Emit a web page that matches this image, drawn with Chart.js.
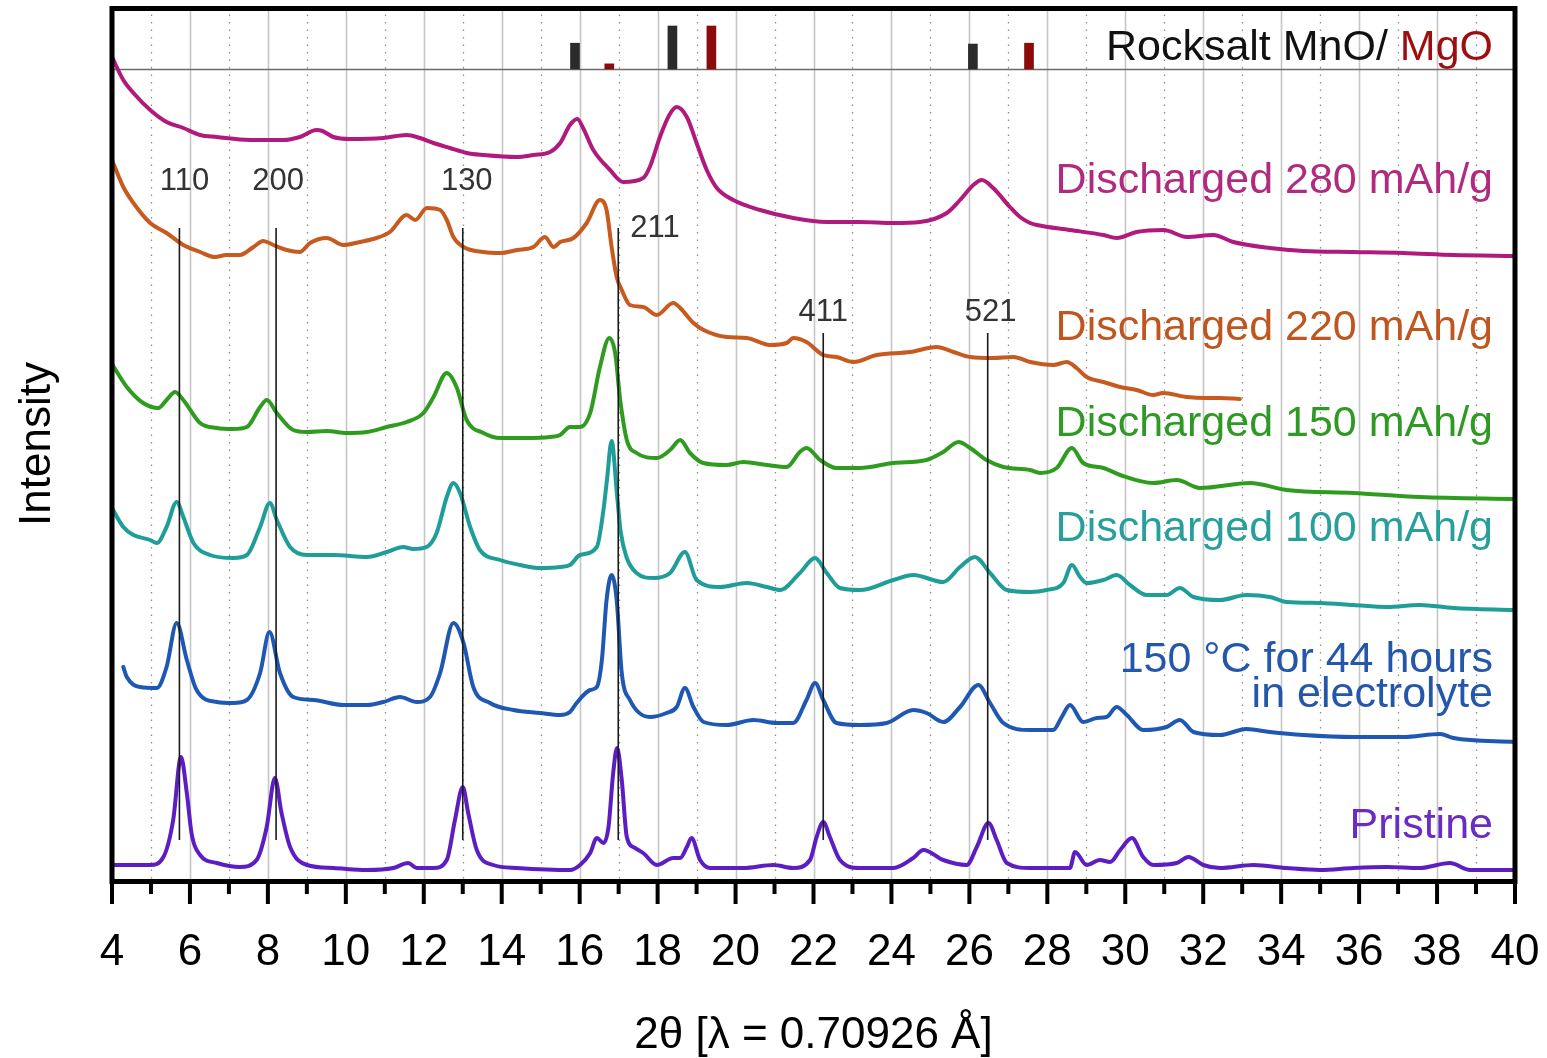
<!DOCTYPE html>
<html>
<head>
<meta charset="utf-8">
<title>XRD patterns</title>
<script src="https://cdn.jsdelivr.net/npm/chart.js@4/dist/chart.umd.min.js"></script>
<style>
  html, body { margin: 0; padding: 0; background: #ffffff; }
  #wrap { width: 1547px; height: 1058px; position: relative; }
</style>
</head>
<body>
<div id="wrap"><canvas id="xrd" width="1547" height="1058"></canvas></div>
<script>
// ---- Data: [2θ (deg), intensity (a.u., patterns stacked with vertical offsets)] ----
const discharged280 = [
  [4.0,824],[4.29,801],[4.55,788],[4.98,771],[5.40,759],[5.83,753],[6.26,746],[6.69,744],[7.54,741],
  [8.40,741],[8.82,744],[9.25,751],[9.40,750],[9.68,744],[10.11,742],[10.96,743],[11.56,746],[11.9,743],
  [12.25,738],[12.67,733],[13.1,728],[13.53,726],[14.39,724],[14.81,726],[15.24,729],[15.5,738],
  [15.75,756],[15.94,762],[16.1,752],[16.35,731],[16.78,711],[17.12,699],[17.63,703],[17.8,714],
  [18.06,744],[18.3,766],[18.49,774],[18.75,764],[19.0,738],[19.26,711],[19.52,693],[19.94,681],
  [20.63,671],[21.48,663],[22.34,659],[23.19,659],[24.05,658],[24.73,659],[25.42,668],[25.76,681],
  [26.1,696],[26.32,701],[26.61,693],[27.04,674],[27.3,664],[27.56,658],[27.73,656],[28.58,651],
  [29.44,646],[29.78,643],[30.29,649],[30.98,651],[31.58,644],[32.26,646],[32.77,639],[33.71,633],
  [34.57,630],[35.85,629],[37.13,628],[38.42,626],[40.0,625]
];
const discharged220 = [
  [4.0,721],[4.29,694],[4.55,678],[4.98,658],[5.40,648],[5.83,636],[6.26,629],[6.64,624],[6.94,626],
  [7.28,626],[7.63,634],[7.88,640],[8.14,636],[8.48,631],[8.82,629],[9.08,638],[9.51,643],[9.94,636],
  [10.36,639],[10.79,643],[11.13,649],[11.56,666],[11.78,661],[12.08,673],[12.42,671],[12.59,661],
  [12.76,644],[13.02,634],[13.53,629],[13.96,628],[14.39,631],[14.81,634],[15.11,644],[15.33,634],
  [15.5,639],[15.84,643],[16.18,658],[16.52,681],[16.69,671],[16.82,634],[16.95,604],[17.08,591],
  [17.29,576],[17.63,574],[17.98,566],[18.4,578],[18.58,573],[18.92,558],[19.18,551],[19.77,544],
  [20.29,543],[20.88,536],[21.31,538],[21.48,543],[21.82,539],[22.25,526],[22.59,524],[23.02,519],
  [23.62,526],[24.48,529],[25.16,534],[25.59,529],[26.02,524],[26.61,523],[27.13,524],[27.56,519],
  [28.15,516],[28.5,519],[28.75,513],[29.01,504],[29.44,499],[29.87,494],[30.29,491],[30.72,486],
  [30.97,488],[31.58,484],[32.09,483],[32.43,483],[32.94,482]
];
const discharged150 = [
  [4.0,517],[4.38,494],[4.80,478],[5.19,473],[5.40,481],[5.62,489],[5.83,481],[6.26,458],[6.69,453],
  [7.11,452],[7.46,454],[7.80,474],[7.97,481],[8.23,468],[8.65,451],[9.0,449],[9.51,450],[10.02,448],
  [10.54,449],[11.05,454],[11.56,459],[11.99,468],[12.25,484],[12.59,508],[12.84,494],[13.1,461],
  [13.53,448],[13.96,443],[14.64,443],[15.24,444],[15.5,446],[15.75,454],[16.01,454],[16.27,468],
  [16.52,514],[16.76,543],[16.91,528],[17.04,481],[17.21,441],[17.46,428],[17.98,423],[18.32,431],
  [18.58,441],[18.83,428],[19.17,418],[19.77,416],[20.2,419],[20.8,416],[21.31,414],[21.65,429],
  [21.82,433],[22.17,421],[22.59,413],[23.19,413],[24.05,418],[24.9,421],[25.33,429],[25.72,439],
  [26.02,433],[26.44,421],[26.87,414],[27.56,411],[27.81,408],[28.24,413],[28.63,433],[28.92,418],
  [29.44,413],[29.87,406],[30.72,398],[31.32,401],[31.92,393],[33.2,398],[34.14,391],[35.85,388],
  [37.56,384],[40.0,382]
];
const discharged100 = [
  [4.0,373],[4.29,354],[4.55,346],[4.98,341],[5.15,338],[5.40,354],[5.66,379],[5.83,364],[6.09,338],
  [6.51,326],[7.11,323],[7.46,326],[7.80,354],[8.05,378],[8.23,361],[8.57,334],[9.0,326],[9.68,326],
  [10.54,324],[11.05,329],[11.47,334],[11.73,332],[12.07,334],[12.33,348],[12.59,384],[12.76,398],
  [12.93,388],[13.19,354],[13.44,331],[13.96,321],[14.47,316],[14.98,313],[15.5,314],[15.75,316],
  [16.01,326],[16.44,334],[16.61,371],[16.7,401],[16.82,440],[16.95,390],[17.05,350],[17.2,324],
  [17.46,308],[17.89,303],[18.32,308],[18.7,329],[19.0,301],[19.6,294],[20.29,298],[20.8,294],
  [21.14,291],[21.65,308],[22.04,323],[22.34,308],[22.68,293],[23.19,291],[24.05,301],[24.56,306],
  [25.33,299],[25.76,314],[26.14,324],[26.53,308],[26.96,291],[27.56,289],[27.98,291],[28.41,298],
  [28.63,316],[28.84,304],[29.01,298],[29.44,301],[29.78,306],[30.12,296],[30.55,286],[31.06,286],
  [31.4,293],[31.75,284],[32.43,281],[33.11,286],[33.71,284],[34.14,279],[35.0,278],[35.85,276],
  [36.71,274],[37.56,276],[38.42,273],[40.0,271]
];
const heated150C = [
  [4.29,214],[4.38,204],[4.72,194],[5.15,193],[5.40,214],[5.66,258],[5.92,221],[6.17,191],[6.69,179],
  [7.11,178],[7.46,181],[7.80,208],[8.04,249],[8.31,208],[8.65,184],[9.17,181],[9.94,176],[10.54,176],
  [10.96,179],[11.39,184],[11.82,179],[12.16,184],[12.42,208],[12.76,258],[13.02,238],[13.27,194],
  [13.7,178],[14.3,171],[14.98,168],[15.5,166],[15.75,169],[15.92,178],[16.27,191],[16.44,194],
  [16.57,221],[16.69,281],[16.82,306],[16.95,281],[17.08,208],[17.29,181],[17.8,164],[18.23,168],
  [18.49,174],[18.7,193],[18.92,174],[19.18,159],[19.77,156],[20.46,161],[21.06,158],[21.48,158],
  [21.82,181],[22.04,198],[22.25,181],[22.59,158],[23.19,156],[23.88,158],[24.56,171],[24.9,168],
  [25.33,159],[25.76,174],[26.23,196],[26.53,178],[26.87,158],[27.56,151],[28.15,151],[28.37,164],
  [28.58,176],[28.92,159],[29.27,163],[29.52,164],[29.78,174],[30.04,166],[30.46,151],[31.06,154],
  [31.4,161],[31.75,149],[32.43,146],[33.11,152],[33.71,149],[34.57,146],[35.85,144],[37.13,144],
  [38.08,147],[38.42,143],[40.0,139]
];
const pristine = [
  [4.0,16],[4.55,16],[4.98,16],[5.32,24],[5.57,61],[5.77,124],[5.92,88],[6.04,48],[6.26,26],[6.69,18],
  [7.28,14],[7.71,21],[7.97,54],[8.18,103],[8.35,68],[8.57,34],[9.0,16],[9.68,13],[10.54,11],[11.22,13],
  [11.6,18],[11.82,13],[12.25,13],[12.59,21],[12.8,61],[13.0,94],[13.14,68],[13.36,31],[13.78,16],
  [14.38,13],[15.75,11],[16.01,16],[16.27,28],[16.44,43],[16.61,38],[16.74,54],[16.86,108],[16.96,133],
  [17.08,101],[17.21,44],[17.42,33],[17.63,28],[17.98,16],[18.4,23],[18.58,23],[18.75,34],[18.87,43],
  [19.09,21],[19.35,13],[20.2,13],[20.97,16],[21.48,13],[21.91,21],[22.08,44],[22.25,59],[22.42,44],
  [22.68,21],[23.19,13],[24.05,13],[24.56,23],[24.82,31],[25.33,21],[25.93,16],[26.19,34],[26.49,58],
  [26.7,41],[26.96,18],[27.56,13],[28.58,13],[28.71,29],[29.01,16],[29.35,21],[29.61,19],[29.87,31],
  [30.17,43],[30.46,24],[30.72,16],[31.32,18],[31.62,24],[32.0,16],[32.43,13],[33.29,16],[34.14,13],
  [35.0,11],[35.85,13],[36.71,14],[37.56,13],[38.33,18],[38.85,11],[40.0,11]
];

// Reference reflections of rocksalt MnO and MgO (2θ, relative intensity %)
const mnoPositions = [15.88, 18.38, 26.09];
const mnoRelInt    = [60, 100, 58];
const mgoPositions = [16.76, 19.38, 27.53];
const mgoRelInt    = [12, 100, 60];

// Indexed reflections of the pristine phase
const hklLabels    = ['110', '200', '130', '211', '411', '521'];
const hklPositions = [5.73, 8.21, 13.0, 16.99, 22.25, 26.47];

// Pattern names as printed next to each trace
const seriesNames = [
  'Discharged 280 mAh/g', 'Discharged 220 mAh/g', 'Discharged 150 mAh/g',
  'Discharged 100 mAh/g', ['150 °C for 44 hours', 'in electrolyte'], 'Pristine'
];

// X-axis tick range
const xMin = 4, xMax = 40;

// ---- styling ----
const FONT = '"Liberation Sans", Arial, Helvetica, sans-serif';
const lineColors = ['#b01a7c', '#c75a1f', '#2f9c20', '#1f9d98', '#1f58b2', '#5c1ec2'];
const textColors = ['#b02a80', '#c0561f', '#2e9a24', '#27a09c', '#2457aa', '#6a2cc4'];
const series = [discharged280, discharged220, discharged150, discharged100, heated150C, pristine];

const REF_BASE = 812;     // baseline of the reference stick pattern (a.u.)
const REF_SCALE = 0.43;   // a.u. per % relative intensity
const HKL_BOTTOM = 41;
const hklTop = [653, 653, 653, 653, 548, 548];

const toXY = arr => arr.map(p => ({ x: p[0], y: p[1] }));

const datasets = [];
// Indexing lines (first → drawn on top)
hklPositions.forEach((p, i) => {
  datasets.push({
    type: 'line', label: hklLabels[i],
    data: [{ x: p, y: HKL_BOTTOM }, { x: p, y: hklTop[i] }],
    borderColor: '#1a1a1a', borderWidth: 1.6, pointRadius: 0, fill: false
  });
});
series.forEach((s, i) => {
  datasets.push({
    type: 'line', label: Array.isArray(seriesNames[i]) ? seriesNames[i].join(' ') : seriesNames[i],
    data: toXY(s), borderColor: lineColors[i], borderWidth: 4, pointRadius: 0,
    cubicInterpolationMode: 'monotone', fill: false, borderJoinStyle: 'round', borderCapStyle: 'round'
  });
});
datasets.push({
  type: 'bar', label: 'MnO',
  data: mnoPositions.map((p, i) => ({ x: p, y: [REF_BASE, REF_BASE + mnoRelInt[i] * REF_SCALE] })),
  backgroundColor: '#2b2b2b', barThickness: 9, grouped: false
});
datasets.push({
  type: 'bar', label: 'MgO',
  data: mgoPositions.map((p, i) => ({ x: p, y: [REF_BASE, REF_BASE + mgoRelInt[i] * REF_SCALE] })),
  backgroundColor: '#8c0a0a', barThickness: 9, grouped: false
});

// Grid (solid at even 2θ, dotted at odd), reference baseline
const gridPlugin = {
  id: 'xrdGrid',
  beforeDatasetsDraw(chart) {
    const { ctx, chartArea: a, scales: { x, y } } = chart;
    ctx.save();
    for (let v = xMin + 1; v < xMax; v++) {
      const px = Math.round(x.getPixelForValue(v)) + 0.5;
      ctx.beginPath();
      if (v % 2 === 0) {
        ctx.setLineDash([]);
        ctx.strokeStyle = '#c6c6c6';
        ctx.lineWidth = 1.6;
      } else {
        ctx.setLineDash([1.5, 6]);
        ctx.strokeStyle = '#8e8e8e';
        ctx.lineWidth = 1.3;
      }
      ctx.moveTo(px, a.top);
      ctx.lineTo(px, a.bottom);
      ctx.stroke();
    }
    ctx.setLineDash([]);
    const by = Math.round(y.getPixelForValue(REF_BASE)) + 0.5;
    ctx.strokeStyle = '#6b6b6b';
    ctx.lineWidth = 1.3;
    ctx.beginPath();
    ctx.moveTo(a.left, by);
    ctx.lineTo(a.right, by);
    ctx.stroke();
    ctx.restore();
  }
};

// Frame, tick marks and annotations
const framePlugin = {
  id: 'xrdFrame',
  afterDraw(chart) {
    const { ctx, chartArea: a, scales: { x, y } } = chart;
    ctx.save();
    // tick marks
    ctx.strokeStyle = '#000';
    ctx.lineWidth = 4;
    for (let v = xMin; v <= xMax; v++) {
      const px = x.getPixelForValue(v);
      const len = v % 2 === 0 ? 23 : 13;
      ctx.beginPath();
      ctx.moveTo(px, a.bottom);
      ctx.lineTo(px, a.bottom + len);
      ctx.stroke();
    }
    // frame
    ctx.lineWidth = 5;
    ctx.strokeRect(a.left, a.top + 1.5, a.right - a.left, a.bottom - a.top - 1);

    // reflection indices
    ctx.font = '31px ' + FONT;
    ctx.fillStyle = '#333333';
    ctx.textBaseline = 'middle';
    const hklDy = [-47, -47, -47, 0, -21, -21];
    const hklDx = [5, 2, 4, 12, 0, 3];
    hklLabels.forEach((t, i) => {
      const px = x.getPixelForValue(hklPositions[i]) + hklDx[i];
      const py = y.getPixelForValue(hklTop[i]) + hklDy[i];
      ctx.textAlign = i === 3 ? 'left' : 'center';
      ctx.fillText(t, px, py);
    });

    // pattern names
    ctx.font = '43px ' + FONT;
    ctx.textAlign = 'right';
    const rx = a.right - 22;
    const nameY = [181, 328, 424, 529, [660, 695], 826];
    seriesNames.forEach((n, i) => {
      ctx.fillStyle = textColors[i];
      if (Array.isArray(n)) {
        n.forEach((line, j) => ctx.fillText(line, rx, nameY[i][j]));
      } else {
        ctx.fillText(n, rx, nameY[i]);
      }
    });

    // reference legend
    const mgo = 'MgO';
    ctx.fillStyle = '#9a1010';
    ctx.fillText(mgo, rx, 48);
    const w = ctx.measureText(mgo).width;
    ctx.fillStyle = '#111111';
    ctx.fillText('Rocksalt MnO/ ', rx - w, 48);
    ctx.restore();
  }
};

new Chart(document.getElementById('xrd'), {
  type: 'line',
  data: { datasets },
  options: {
    responsive: false,
    animation: false,
    events: [],
    layout: { padding: { left: 0, right: 32, top: 7, bottom: 0 } },
    plugins: { legend: { display: false }, tooltip: { enabled: false } },
    scales: {
      x: {
        type: 'linear', min: xMin, max: xMax, offset: false,
        grid: { display: false, drawTicks: false },
        border: { display: false },
        ticks: {
          stepSize: 1, autoSkip: false, maxRotation: 0, minRotation: 0,
          padding: 50, color: '#000',
          font: { family: FONT, size: 44, lineHeight: 1 },
          callback: v => (v % 2 === 0 ? String(v) : '')
        },
        title: {
          display: true, text: '2θ [λ = 0.70926 Å]', color: '#000',
          font: { family: FONT, size: 44, lineHeight: 1 },
          padding: { top: 0, bottom: 0 }
        },
        afterFit(scale) {
          scale.height = 177;
          scale.paddingLeft = 0;
          scale.paddingRight = 0;
        }
      },
      y: {
        type: 'linear', min: 0, max: 874,
        grid: { display: false, drawTicks: false },
        border: { display: false },
        ticks: { display: false },
        title: {
          display: true, text: 'Intensity', color: '#000',
          font: { family: FONT, size: 44, lineHeight: 1 },
          padding: { top: 16, bottom: 0 }
        },
        afterFit(scale) { scale.width = 112; }
      }
    }
  },
  plugins: [gridPlugin, framePlugin]
});
</script>
</body>
</html>
